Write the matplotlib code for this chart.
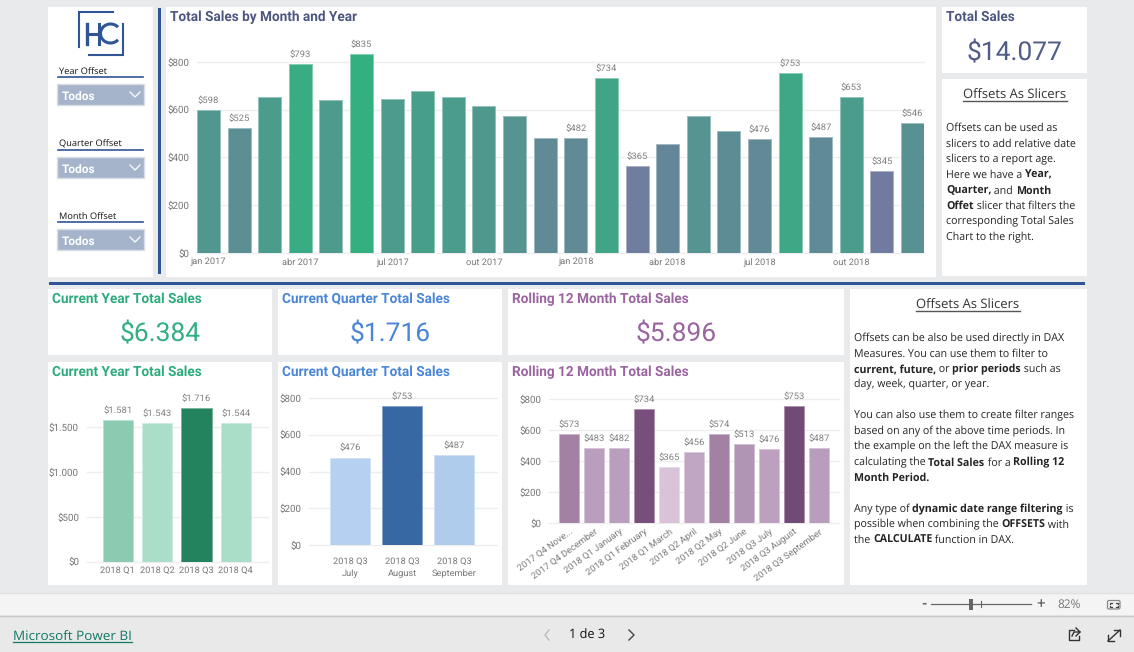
import numpy as np
import matplotlib
matplotlib.use('Agg')
from matplotlib import pyplot as plt
from matplotlib.patches import Rectangle, Arc, FancyBboxPatch
from matplotlib.colors import LinearSegmentedColormap, Normalize

plt.rcParams['text.hinting'] = 'no_hinting'

# chart values
month_labels = ['jan 2017', 'abr 2017', 'jul 2017', 'out 2017', 'jan 2018', 'abr 2018', 'jul 2018', 'out 2018']
month_sales = [598, 525, 652, 793, 642, 835, 644, 679, 653, 616, 573, 483,
               482, 734, 365, 456, 574, 513, 476, 753, 487, 653, 345, 546]
month_labelled = [0, 1, 3, 5, 12, 13, 14, 18, 19, 20, 21, 22, 23]

year_labels = ['2018 Q1', '2018 Q2', '2018 Q3', '2018 Q4']
year_sales = [1581, 1543, 1716, 1544]

quarter_labels = ['2018 Q3\nJuly', '2018 Q3\nAugust', '2018 Q3\nSeptember']
quarter_sales = [476, 753, 487]

rolling_labels = ['2017 Q4 Nove...', '2017 Q4 December', '2018 Q1 January', '2018 Q1 February', '2018 Q1 March',
                  '2018 Q2 April', '2018 Q2 May', '2018 Q2 June', '2018 Q3 July', '2018 Q3 August', '2018 Q3 September']
rolling_sales = [573, 483, 482, 734, 365, 456, 574, 513, 476, 753, 487]

slicer_names = ['Year Offset', 'Quarter Offset', 'Month Offset']

slicer_text = [
    [('Offsets can be used as', False)],
    [('slicers to add relative date', False)],
    [('slicers to a report age.', False)],
    [('Here we have a ', False), ('Year,', True)],
    [('Quarter,', True), (' and ', False), ('Month', True)],
    [('Offet', True), (' slicer that filters the', False)],
    [('corresponding Total Sales', False)],
    [('Chart to the right.', False)],
]
dax_text = [
    [('Offsets can be also be used directly in DAX', False)],
    [('Measures. You can use them to filter to', False)],
    [('current, future,', True), (' or ', False), ('prior periods', True), (' such as', False)],
    [('day, week, quarter, or year.', False)],
    [],
    [('You can also use them to create filter ranges', False)],
    [('based on any of the above time periods. In', False)],
    [('the example on the left the DAX measure is', False)],
    [('calculating the ', False), ('Total Sales', True), (' for a ', False), ('Rolling 12', True)],
    [('Month Period.', True)],
    [],
    [('Any type of ', False), ('dynamic date range filtering', True), (' is', False)],
    [('possible when combining the ', False), ('OFFSETS', True), (' with', False)],
    [('the ', False), ('CALCULATE', True), (' function in DAX.', False)],
]

W, H = 1134, 652
BG = '#E9EAEC'
NAVY = '#2F5597'
DIN = 'Roboto'
BODY = 'Open Sans'

fig = plt.figure(figsize=(W/100, H/100), dpi=100, facecolor=BG)
base = fig.add_axes([0, 0, 1, 1])
base.set_xlim(0, W)
base.set_ylim(H, 0)
base.axis('off')
renderer = fig.canvas.get_renderer()


def money(v):
    return f'${v:,}'.replace(',', '.')


def box(x0, y0, x1, y1, color='white', **kw):
    base.add_patch(Rectangle((x0, y0), x1-x0, y1-y0, facecolor=color, edgecolor='none', **kw))


def write_runs(x, y, runs, size=7.7, color='#252423'):
    # left aligned line made of regular and bold pieces
    for txt, bold in runs:
        t = base.text(x, y, txt, fontsize=size, family=BODY, color=color, va='baseline', ha='left',
                      fontweight='bold' if bold else 'normal')
        x += t.get_window_extent(renderer).width


def heading(cx, y, txt):
    t = base.text(cx, y, txt, fontsize=9.4, family=BODY, color='#333333', ha='center', va='baseline')
    w = t.get_window_extent(renderer).width
    base.plot([cx-w/2, cx+w/2], [y+1.6, y+1.6], color='#555555', lw=1)


def title(x, y, txt, color):
    base.text(x, y, txt, fontsize=9.8, family=DIN, fontweight='bold', color=color, va='baseline', ha='left')


def kpi(cx, y, txt, color):
    base.text(cx, y, txt, fontsize=19, family=DIN, color=color, va='baseline', ha='center')


def bar_chart(rect, ymax, ticks, names, values, low, high, tick_pos=None, labelled=None, width=0.75, xlim=None,
              xpad=3.5):
    x0, y0, x1, y1 = rect
    ax = fig.add_axes([x0/W, 1-y1/H, (x1-x0)/W, (y1-y0)/H])
    ax.patch.set_alpha(0)
    cmap = LinearSegmentedColormap.from_list('s', [low, high])
    norm = Normalize(min(values), max(values))
    pos = np.arange(len(values))
    colors = [cmap(norm(v)) for v in values]
    edges = [tuple(0.6*c + 0.4 for c in col[:3]) for col in colors]
    ax.bar(pos, values, width=width, color=colors, edgecolor=edges, linewidth=0.7, zorder=3)
    ax.set_xlim(*xlim)
    ax.set_ylim(0, ymax)
    ax.set_yticks(ticks)
    ax.set_yticklabels([money(v) for v in ticks], fontsize=7, family=DIN, color='#777777')
    ax.set_xticks(pos if tick_pos is None else tick_pos)
    ax.set_xticklabels(names, fontsize=6.7, family=DIN, color='#777777', linespacing=1.5)
    ax.tick_params(axis='both', length=0)
    ax.tick_params(axis='y', pad=5.8)
    ax.tick_params(axis='x', pad=xpad)
    ax.grid(axis='y', color='#EEEEEE', lw=1)
    ax.set_axisbelow(True)
    for line in ax.get_ygridlines():
        line.set_clip_on(False)
    for s in ax.spines.values():
        s.set_visible(False)
    for i in (pos if labelled is None else labelled):
        ax.annotate(money(values[i]), (i, values[i]), xytext=(0, 6.8), textcoords='offset points',
                    ha='center', va='center', fontsize=6.8, family=DIN, color='#808080', annotation_clip=False)
    return ax


# panels
box(48, 7, 153, 277)
box(166, 7, 936, 277)
box(942, 7, 1087, 73)
box(942, 79, 1087, 276)
box(48, 289, 272, 355)
box(278, 289, 502, 355)
box(508, 289, 844, 355)
box(48, 362, 272, 585)
box(278, 362, 502, 585)
box(508, 362, 844, 585)
box(850, 289, 1087, 585)
box(158, 8, 161, 274, color=NAVY)
box(49, 282, 1085, 285, color=NAVY)

# bottom bars
box(0, 593, W, 615, color='#F4F4F4')
box(0, 615, W, H, color='#E9E9E9')
base.plot([0, W], [592.5, 592.5], color='#E0E0E0', lw=1)
base.plot([0, W], [615.5, 615.5], color='#C8C8C8', lw=1)

# logo
base.plot([113, 78.5, 78.5], [11.5, 11.5, 47], color=NAVY, lw=1.5, solid_joinstyle='miter')
base.plot([122.5, 122.5, 89], [24, 55, 55], color=NAVY, lw=1.5, solid_joinstyle='miter')
base.plot([87, 87], [24, 44], color=NAVY, lw=2.4)
base.plot([98.5, 98.5], [24, 44], color=NAVY, lw=2.2)
base.plot([87, 98.5], [33.5, 33.5], color=NAVY, lw=2.2)
base.add_patch(Arc((110.5, 33.5), 20, 19, theta1=40, theta2=320, color=NAVY, lw=2.2))

# slicers
for name, ly, uy, by in zip(slicer_names, [74, 146, 218.5], [77, 150, 222], [84, 157, 229]):
    base.text(59, ly, name, fontsize=6.7, family=BODY, color='#111111', va='baseline')
    base.plot([58, 143], [uy, uy], color=NAVY, lw=1.2)
    base.add_patch(Rectangle((57, by), 87, 21, facecolor='#A5B4CB', edgecolor='#D8DDE6', lw=1))
    base.text(62, by+12.5, 'Todos', fontsize=8.6, family=DIN, fontweight='bold', color='white', va='center')
    base.plot([130, 135, 140], [by+8, by+13, by+8], color='white', lw=0.9)

# titles and cards
title(170, 21, 'Total Sales by Month and Year', '#4D5680')
title(946, 21, 'Total Sales', '#4D5680')
kpi(1015, 60, '$14.077', '#515C86')
title(52, 303, 'Current Year Total Sales', '#2EAB7D')
title(282, 303, 'Current Quarter Total Sales', '#4A86D8')
title(512, 303, 'Rolling 12 Month Total Sales', '#9A64A0')
kpi(160, 341, '$6.384', '#32AE80')
kpi(390, 341, '$1.716', '#4A86D8')
kpi(676, 341, '$5.896', '#9A64A0')
title(52, 376, 'Current Year Total Sales', '#2EAB7D')
title(282, 376, 'Current Quarter Total Sales', '#4A86D8')
title(512, 376, 'Rolling 12 Month Total Sales', '#9A64A0')

# text boxes
heading(1015, 99, 'Offsets As Slicers')
for i, runs in enumerate(slicer_text):
    write_runs(946, 131 + i*15.6, runs)
heading(968, 309, 'Offsets As Slicers')
for i, runs in enumerate(dax_text):
    write_runs(854, 341 + i*15.55, runs)

# charts
bar_chart((197, 40, 924, 253), 892, [0, 200, 400, 600, 800], month_labels, month_sales,
          '#717B9F', '#34B080', tick_pos=list(range(0, 24, 3)), labelled=month_labelled,
          xlim=(-0.375, 23.375))
bar_chart((87, 380, 268, 561.7), 2028, [0, 500, 1000, 1500], year_labels, year_sales,
          '#ABDEC9', '#24835F', width=0.773, xlim=(-0.784, 3.82))
bar_chart((309, 390, 497, 545.3), 842, [0, 200, 400, 600, 800], quarter_labels, quarter_sales,
          '#B5D0F0', '#3868A4', width=0.765, xlim=(-0.784, 2.815), xpad=8.5)
ax_roll = bar_chart((549, 390, 839, 523.3), 858, [0, 200, 400, 600, 800], rolling_labels, rolling_sales,
                    '#D9C3DB', '#734977', width=0.8, xlim=(-0.8, 10.8), xpad=3)
for lab in ax_roll.get_xticklabels():
    lab.set_rotation(36)
    lab.set_ha('right')
    lab.set_rotation_mode('anchor')

# zoom bar
base.text(924, 604, '-', fontsize=10, family=DIN, fontweight='bold', color='#666666', ha='center', va='center')
base.plot([931, 1031], [604, 604], color='#666666', lw=0.9)
base.plot([981, 981], [601, 607], color='#666666', lw=0.8)
box(969, 599, 973, 610, color='#666666')
base.text(1041, 604, '+', fontsize=11, family=DIN, color='#666666', ha='center', va='center')
base.text(1069.5, 604.5, '82%', fontsize=8.6, family=BODY, color='#777777', ha='center', va='center')
base.add_patch(FancyBboxPatch((1107.5, 600.5), 12.5, 8.5, boxstyle='round,pad=0,rounding_size=1.5',
                              facecolor='none', edgecolor='#888888', lw=0.9))
# corner marks inside the fit icon
base.plot([1110, 1110, 1112], [604, 603, 603], color='#444444', lw=0.9)
base.plot([1115.5, 1117.5, 1117.5], [603, 603, 604], color='#444444', lw=0.9)
base.plot([1110, 1110, 1112], [605.5, 606.5, 606.5], color='#444444', lw=0.9)
base.plot([1115.5, 1117.5, 1117.5], [606.5, 606.5, 605.5], color='#444444', lw=0.9)

# footer
t = base.text(13, 640.5, 'Microsoft Power BI', fontsize=9.7, family=BODY, color='#117865', va='baseline')
w = t.get_window_extent(renderer).width
base.plot([13, 13+w], [642, 642], color='#117865', lw=0.9)
base.text(587.5, 635, '1 de 3', fontsize=9.2, family=BODY, color='#111111', ha='center', va='center')
base.plot([549, 545, 549], [630, 635, 640], color='#BBBBBB', lw=1)
base.plot([629, 634, 629], [630, 635, 640], color='#444444', lw=1)
# share icon
base.plot([1074, 1069, 1069, 1079, 1079], [630, 630, 640, 640, 636], color='#333333', lw=1)
base.plot([1072, 1074, 1080, 1076], [636, 632, 632, 628], color='#333333', lw=1)
base.plot([1080, 1076], [632, 636], color='#333333', lw=1)
# expand icon
base.plot([1108, 1120], [641, 630], color='#333333', lw=1)
base.plot([1114, 1120, 1120], [630, 630, 636], color='#333333', lw=1)
base.plot([1108, 1108, 1114], [635, 641, 641], color='#333333', lw=1)

base.set_xlim(0, W)
base.set_ylim(H, 0)
fig.savefig('out.png', dpi=100, facecolor=BG)
